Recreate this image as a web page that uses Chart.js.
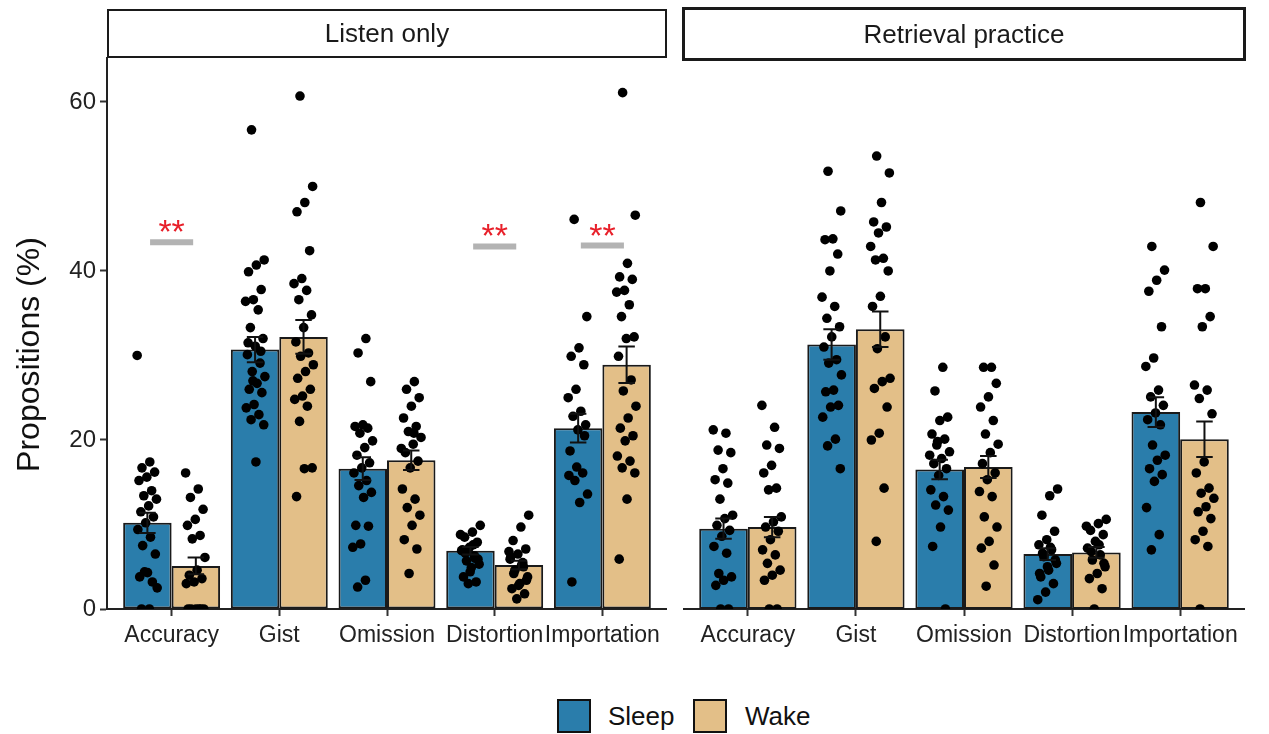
<!DOCTYPE html>
<html lang="en">
<head>
<meta charset="UTF-8">
<title>Propositions by condition</title>
<script src="https://cdn.jsdelivr.net/npm/chart.js"></script>
<style>
    body {
        margin: 0;
        background: #fff;
        font-family: 'Liberation Sans', Arial, sans-serif;
    }
    #wrap {
        position: relative;
        width: 1269px;
        height: 734px;
        overflow: hidden;
    }
    canvas {
        position: absolute;
        top: 0;
    }
    .strip {
        position: absolute;
        box-sizing: border-box;
        border: 2px solid #1a1a1a;
        font-size: 26px;
        color: #1a1a1a;
        text-align: center;
    }
    .key {
        position: absolute;
        top: 699px;
        width: 34px;
        height: 34px;
        box-sizing: border-box;
        border: 2px solid #111;
    }
    .keytext {
        position: absolute;
        top: 699px;
        line-height: 34px;
        font-size: 26px;
        color: #111;
    }
</style>
</head>
<body>
<div id="wrap">
    <canvas id="listen" width="667" height="680" style="left:0"></canvas>
    <canvas id="retrieval" width="562" height="680" style="left:683px"></canvas>

    <div class="strip" style="left:107px; top:9px; width:560px; height:49px; line-height:45px;">Listen only</div>
    <div class="strip" style="left:682px; top:7px; width:564px; height:54px; line-height:48px; border-width:3px;">Retrieval practice</div>

    <div class="key" style="left:557px; background:#2A7DAB;"></div>
    <div class="keytext" style="left:608px;">Sleep</div>
    <div class="key" style="left:693px; background:#E3BF88;"></div>
    <div class="keytext" style="left:745px;">Wake</div>
</div>

<script>
    const categories = ['Accuracy', 'Gist', 'Omission', 'Distortion', 'Importation'];
    const yTicks = [0, 20, 40, 60];

    // bar heights (means) and error bar half-widths
    const listenSleepMean = [10.2, 30.7, 16.6, 6.9, 21.4];
    const listenSleepSE = [1.2, 1.5, 1.35, 0.45, 1.7];
    const listenWakeMean = [5.1, 32.2, 17.6, 5.2, 28.9];
    const listenWakeSE = [1.0, 2.0, 1.15, 0.5, 2.15];

    const retrievalSleepMean = [9.5, 31.3, 16.5, 6.5, 23.3];
    const retrievalSleepSE = [1.2, 1.8, 1.15, 0.7, 1.75];
    const retrievalWakeMean = [9.7, 33.1, 16.8, 6.7, 20.1];
    const retrievalWakeSE = [1.2, 2.1, 1.3, 0.65, 2.1];

    // individual participants, one list per category
    const listenSleepPoints = [
        [30.0, 17.4, 16.7, 16.2, 15.6, 15.2, 14.0, 13.4, 13.0, 12.2, 11.5, 10.9, 10.2, 9.4, 8.5, 7.5, 6.5, 4.3, 3.8, 3.2, 4.4, 2.5, 0, 0],
        [56.7, 41.3, 40.7, 39.9, 37.8, 36.6, 36.4, 35.4, 33.3, 32.0, 31.1, 30.1, 29.1, 28.1, 27.5, 26.7, 26.0, 25.6, 24.2, 23.8, 23.0, 22.4, 21.8, 17.4, 31.5, 30.5, 27.0],
        [32.0, 30.3, 26.9, 21.8, 21.6, 21.4, 20.8, 19.9, 19.1, 18.2, 17.3, 16.7, 16.1, 15.2, 14.6, 13.8, 13.2, 9.9, 9.8, 7.7, 7.3, 3.4, 2.6],
        [9.9, 9.1, 8.5, 7.9, 7.3, 6.9, 6.3, 5.7, 5.3, 4.9, 3.8, 3.2, 3.0, 8.8, 7.6, 6.6, 5.9, 4.4, 7.0, 6.0],
        [46.1, 34.6, 30.9, 29.9, 28.9, 26.0, 25.0, 23.4, 22.8, 21.8, 21.2, 18.7, 16.1, 15.2, 13.6, 12.6, 3.2, 20.5, 16.8, 15.8]
    ];
    const listenWakePoints = [
        [16.1, 14.2, 13.2, 11.8, 10.6, 9.9, 8.7, 8.3, 6.1, 4.6, 4.0, 3.6, 3.2, 3.0, 0, 0, 0, 0, 0, 0],
        [60.7, 50.0, 48.1, 47.0, 42.4, 39.1, 38.5, 37.7, 36.6, 34.8, 33.3, 31.6, 30.3, 29.9, 28.9, 28.1, 27.3, 26.0, 25.2, 24.8, 24.0, 22.2, 16.7, 16.6, 13.3],
        [26.9, 26.0, 25.0, 24.0, 22.6, 21.6, 21.0, 20.3, 19.5, 18.5, 17.5, 16.7, 14.2, 13.0, 12.0, 11.1, 9.9, 8.2, 7.1, 4.2, 19.0, 20.8],
        [11.1, 9.7, 8.1, 7.1, 6.5, 5.9, 5.5, 4.6, 3.8, 3.0, 2.4, 1.8, 1.2, 6.8, 5.2, 4.2, 3.4, 2.8, 6.2, 5.0],
        [61.1, 46.6, 40.9, 39.3, 39.0, 37.7, 37.5, 36.0, 34.6, 32.2, 32.0, 29.9, 27.1, 25.8, 24.0, 22.6, 21.4, 20.5, 19.9, 18.1, 17.5, 16.7, 16.1, 13.0, 5.9]
    ];
    const retrievalSleepPoints = [
        [21.2, 20.8, 18.8, 18.5, 16.6, 15.3, 14.9, 13.0, 11.1, 10.7, 9.9, 9.3, 8.6, 7.4, 6.6, 4.2, 3.8, 3.4, 2.8, 0, 0],
        [51.8, 47.1, 43.8, 43.7, 42.0, 40.0, 36.9, 35.8, 34.4, 33.4, 32.2, 31.0, 29.5, 29.1, 27.7, 25.9, 25.7, 24.1, 23.9, 22.7, 20.1, 19.3, 16.6],
        [28.6, 25.8, 22.7, 22.3, 20.7, 20.1, 19.4, 18.6, 17.8, 17.2, 16.6, 15.8, 14.1, 13.3, 12.3, 11.7, 9.7, 7.4, 0, 19.8, 18.2],
        [14.2, 13.4, 11.1, 9.2, 8.2, 7.6, 7.0, 6.2, 5.4, 4.6, 3.8, 3.0, 2.0, 1.1, 7.3, 6.6, 5.8, 5.0, 4.2],
        [42.9, 40.1, 38.9, 37.6, 33.4, 29.7, 28.7, 25.9, 25.1, 24.1, 23.2, 22.4, 21.8, 19.4, 18.2, 17.6, 16.6, 15.9, 15.1, 12.0, 8.8, 7.0]
    ];
    const retrievalWakePoints = [
        [24.1, 21.5, 19.4, 19.0, 17.0, 16.1, 14.3, 14.1, 10.9, 10.3, 9.7, 9.2, 8.2, 7.0, 6.4, 5.4, 4.6, 4.0, 3.4, 0, 0],
        [53.6, 51.6, 48.1, 45.8, 45.2, 44.5, 42.9, 41.5, 41.3, 40.0, 37.0, 35.8, 32.2, 30.8, 27.3, 26.9, 26.1, 23.9, 20.8, 20.0, 14.3, 8.0],
        [28.6, 28.6, 26.7, 25.1, 23.9, 22.3, 20.7, 19.5, 18.5, 17.2, 16.1, 15.3, 13.9, 13.3, 10.9, 9.7, 8.0, 7.2, 5.2, 2.7],
        [10.6, 10.1, 9.3, 8.8, 8.0, 7.2, 6.4, 5.8, 5.0, 4.2, 3.6, 2.4, 0, 9.8, 7.6, 6.8, 5.4],
        [48.1, 42.9, 37.9, 37.9, 34.6, 33.4, 26.5, 25.9, 24.9, 23.1, 17.4, 16.1, 14.3, 13.7, 13.1, 12.1, 11.5, 10.7, 9.2, 8.2, 7.4, 0]
    ];

    // significance brackets (category number, height, label)
    const listenSigCats = [1, 4, 5];
    const listenSigY = [43.4, 42.9, 43.0];
    const listenSigLabels = ['**', '**', '**'];

    const blue = '#2A7DAB';
    const tan = '#E3BF88';
    const fontFamily = "'Liberation Sans', Arial, sans-serif";
    Chart.defaults.font.family = fontFamily;

    // fixed, repeatable horizontal spread for the dots
    function jitter(i) {
        return ((i * 0.618034) % 1 - 0.5) * 0.19;
    }

    function pointData(groups, shift) {
        const out = [];
        groups.forEach((vals, c) => {
            vals.forEach((v, i) => out.push({ x: c + 1 + shift + jitter(i + c * 7), y: v }));
        });
        return out;
    }

    const errorBarPlugin = {
        id: 'errorBars',
        afterDatasetsDraw(chart, args, opts) {
            const ctx = chart.ctx;
            const y = chart.scales.y;
            ctx.save();
            ctx.strokeStyle = '#111';
            ctx.lineWidth = 2;
            opts.se.forEach((seArr, d) => {
                const meta = chart.getDatasetMeta(d);
                const pts = chart.data.datasets[d].data;
                meta.data.forEach((bar, i) => {
                    const top = y.getPixelForValue(pts[i].y + seArr[i]);
                    const bot = y.getPixelForValue(pts[i].y - seArr[i]);
                    const half = bar.width * 0.17;
                    ctx.beginPath();
                    ctx.moveTo(bar.x, top);
                    ctx.lineTo(bar.x, bot);
                    ctx.moveTo(bar.x - half, top);
                    ctx.lineTo(bar.x + half, top);
                    ctx.moveTo(bar.x - half, bot);
                    ctx.lineTo(bar.x + half, bot);
                    ctx.stroke();
                });
            });
            ctx.restore();
        }
    };

    const sigPlugin = {
        id: 'sigMarks',
        afterDatasetsDraw(chart, args, opts) {
            if (!opts.cats || !opts.cats.length) return;
            const ctx = chart.ctx;
            const x = chart.scales.x;
            const y = chart.scales.y;
            ctx.save();
            opts.cats.forEach((c, k) => {
                const py = y.getPixelForValue(opts.ys[k]);
                ctx.strokeStyle = '#b3b3b3';
                ctx.lineWidth = 6;
                ctx.beginPath();
                ctx.moveTo(x.getPixelForValue(c - 0.2), py);
                ctx.lineTo(x.getPixelForValue(c + 0.2), py);
                ctx.stroke();
                ctx.fillStyle = '#e8202a';
                ctx.font = '34px ' + fontFamily;
                ctx.textAlign = 'center';
                ctx.textBaseline = 'alphabetic';
                ctx.fillText(opts.labels[k], x.getPixelForValue(c), py + 1);
            });
            ctx.restore();
        }
    };

    const yTitlePlugin = {
        id: 'yTitle',
        afterDraw(chart, args, opts) {
            if (!opts.text) return;
            const ctx = chart.ctx;
            const a = chart.chartArea;
            ctx.save();
            ctx.translate(30, (a.top + a.bottom) / 2 + 21);
            ctx.rotate(-Math.PI / 2);
            ctx.fillStyle = '#111';
            ctx.font = '32px ' + fontFamily;
            ctx.textAlign = 'center';
            ctx.textBaseline = 'middle';
            ctx.fillText(opts.text, 0, 0);
            ctx.restore();
        }
    };

    function axisGrid() {
        return {
            display: true,
            drawOnChartArea: false,
            drawTicks: true,
            tickLength: 7,
            tickColor: '#333',
            tickWidth: 2,
            offset: false
        };
    }

    function makePanel(id, sleepMean, sleepSE, wakeMean, wakeSE, sleepPts, wakePts, sig, showY) {
        new Chart(document.getElementById(id), {
            type: 'bar',
            data: {
                datasets: [
                    {
                        label: 'Sleep',
                        data: sleepMean.map((v, i) => ({ x: i + 1, y: v })),
                        backgroundColor: blue,
                        borderColor: '#1a1a1a',
                        borderWidth: 2,
                        borderSkipped: false,
                        categoryPercentage: 0.9,
                        barPercentage: 1,
                        order: 2
                    },
                    {
                        label: 'Wake',
                        data: wakeMean.map((v, i) => ({ x: i + 1, y: v })),
                        backgroundColor: tan,
                        borderColor: '#1a1a1a',
                        borderWidth: 2,
                        borderSkipped: false,
                        categoryPercentage: 0.9,
                        barPercentage: 1,
                        order: 2
                    },
                    {
                        type: 'scatter',
                        data: pointData(sleepPts, -0.225),
                        backgroundColor: '#000',
                        pointRadius: 4.8,
                        pointBorderWidth: 0,
                        order: 1
                    },
                    {
                        type: 'scatter',
                        data: pointData(wakePts, 0.225),
                        backgroundColor: '#000',
                        pointRadius: 4.8,
                        pointBorderWidth: 0,
                        order: 1
                    }
                ]
            },
            options: {
                responsive: false,
                animation: false,
                layout: {
                    autoPadding: false,
                    padding: { top: 58, left: 0, right: 0, bottom: 0 }
                },
                plugins: {
                    legend: { display: false },
                    tooltip: { enabled: false },
                    errorBars: { se: [sleepSE, wakeSE] },
                    sigMarks: sig,
                    yTitle: { text: showY ? 'Propositions (%)' : '' }
                },
                scales: {
                    x: {
                        type: 'linear',
                        min: 0.4,
                        max: 5.6,
                        offset: false,
                        afterBuildTicks: s => { s.ticks = categories.map((c, i) => ({ value: i + 1 })); },
                        afterFit: s => {
                            s.height = 71;
                            s.paddingLeft = 0;
                            s.paddingRight = 0;
                        },
                        ticks: {
                            callback: v => categories[v - 1],
                            font: { size: 23 },
                            color: '#222',
                            padding: 6,
                            autoSkip: false,
                            maxRotation: 0
                        },
                        grid: axisGrid(),
                        border: { display: true, color: '#222', width: 2 }
                    },
                    y: {
                        display: showY,
                        min: 0,
                        max: 65.2,
                        afterBuildTicks: s => { s.ticks = yTicks.map(v => ({ value: v })); },
                        afterFit: s => { s.width = showY ? 107 : 0; },
                        ticks: { font: { size: 24 }, color: '#222', padding: 4 },
                        grid: axisGrid(),
                        border: { display: true, color: '#222', width: 2 }
                    }
                }
            },
            plugins: [errorBarPlugin, sigPlugin, yTitlePlugin]
        });
    }

    makePanel('listen', listenSleepMean, listenSleepSE, listenWakeMean, listenWakeSE,
        listenSleepPoints, listenWakePoints,
        { cats: listenSigCats, ys: listenSigY, labels: listenSigLabels }, true);

    makePanel('retrieval', retrievalSleepMean, retrievalSleepSE, retrievalWakeMean, retrievalWakeSE,
        retrievalSleepPoints, retrievalWakePoints,
        { cats: [], ys: [], labels: [] }, false);
</script>
</body>
</html>
